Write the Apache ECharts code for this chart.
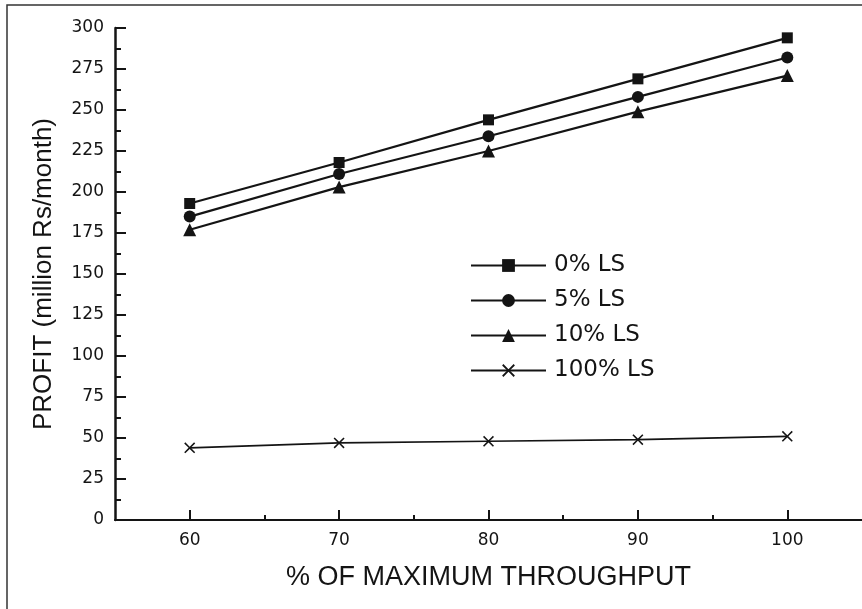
<!DOCTYPE html>
<html lang="en">
    <head>
        <title>Profit vs throughput</title>
        <meta charset="utf-8">
        <script src='https://cdn.jsdelivr.net/npm/echarts@6/dist/echarts.min.js'></script>
    </head>

    <style>
        html, body, #main {
            width: 100%;
            height: 100%;
            margin: 0;
            background: #fff;
        }
    </style>

    <body>
        <div id='main'></div>

        <script>
            // % of maximum throughput
            const throughput = [60, 70, 80, 90, 100];
            // profit, million Rs/month
            const ls0 = [193, 218, 244, 269, 294];
            const ls5 = [185, 211, 234, 258, 282];
            const ls10 = [177, 203, 225, 249, 271];
            const ls100 = [44, 47, 48, 49, 51];
            const xMajor = [60, 70, 80, 90, 100];
            const xMinor = [65, 75, 85, 95];

            const ink = '#141414';
            const cross = 'path://M0,1L1,0L5,4L9,0L10,1L6,5L10,9L9,10L5,6L1,10L0,9L4,5Z';

            const pairs = (ys) => throughput.map((x, i) => [x, ys[i]]);

            const mkSeries = (name, ys, symbol, size, width) => ({
                name: name,
                type: 'line',
                data: pairs(ys),
                symbol: symbol,
                symbolSize: size,
                showSymbol: true,
                lineStyle: { color: ink, width: width },
                itemStyle: { color: ink },
                emphasis: { disabled: true }
            });

            const chart = echarts.init(document.getElementById('main'));

            const option = {
                animation: false,
                backgroundColor: '#fff',
                graphic: [{
                    type: 'rect',
                    shape: { x: 7, y: 5, width: 900, height: 700 },
                    style: { fill: 'none', stroke: '#333', lineWidth: 1.5 },
                    silent: true
                }],
                grid: { left: 115, top: 28, right: 0, bottom: 89 },
                legend: {
                    orient: 'vertical',
                    left: 465,
                    top: 249,
                    itemWidth: 75,
                    itemHeight: 16,
                    itemGap: 12,
                    textStyle: {
                        color: ink,
                        fontFamily: 'DejaVu Sans',
                        fontSize: 23,
                        padding: [0, 0, 0, 3]
                    },
                    data: ['0% LS', '5% LS', '10% LS', '100% LS']
                },
                xAxis: [{
                    type: 'value',
                    min: 55,
                    max: 105,
                    splitLine: { show: false },
                    axisLine: { lineStyle: { color: ink, width: 2 } },
                    axisTick: { inside: true, length: 10, customValues: xMajor, lineStyle: { color: ink, width: 2 } },
                    axisLabel: {
                        customValues: xMajor,
                        color: ink,
                        fontFamily: 'DejaVu Sans',
                        fontSize: 17,
                        margin: 12
                    },
                    name: '% OF MAXIMUM THROUGHPUT',
                    nameLocation: 'middle',
                    nameGap: 44,
                    nameTextStyle: {
                        color: ink,
                        fontFamily: 'Liberation Sans',
                        fontSize: 27
                    }
                }, {
                    type: 'value',
                    min: 55,
                    max: 105,
                    position: 'bottom',
                    splitLine: { show: false },
                    axisLine: { show: false },
                    axisTick: { inside: true, length: 5, customValues: xMinor, lineStyle: { color: ink, width: 2 } },
                    axisLabel: { show: false }
                }],
                yAxis: {
                    type: 'value',
                    min: 0,
                    max: 300,
                    interval: 25,
                    splitLine: { show: false },
                    axisLine: { show: true, lineStyle: { color: ink, width: 2.5 } },
                    axisTick: { show: true, inside: true, length: 11, lineStyle: { color: ink, width: 2 } },
                    minorTick: { show: true, splitNumber: 2, length: 6, lineStyle: { color: ink, width: 2 } },
                    axisLabel: {
                        color: ink,
                        fontFamily: 'DejaVu Sans',
                        fontSize: 17,
                        margin: 11
                    },
                    name: 'PROFIT (million Rs/month)',
                    nameLocation: 'middle',
                    nameGap: 58,
                    nameTextStyle: {
                        color: ink,
                        fontFamily: 'Liberation Sans',
                        fontSize: 26
                    }
                },
                series: [
                    mkSeries('0% LS', ls0, 'rect', 11, 2.2),
                    mkSeries('5% LS', ls5, 'circle', 12, 2.2),
                    mkSeries('10% LS', ls10, 'triangle', 13, 2.2),
                    mkSeries('100% LS', ls100, cross, 11, 1.6)
                ]
            };

            chart.setOption(option);

            window.onresize = function () {
                chart.resize();
            }
        </script>
    </body>
</html>
